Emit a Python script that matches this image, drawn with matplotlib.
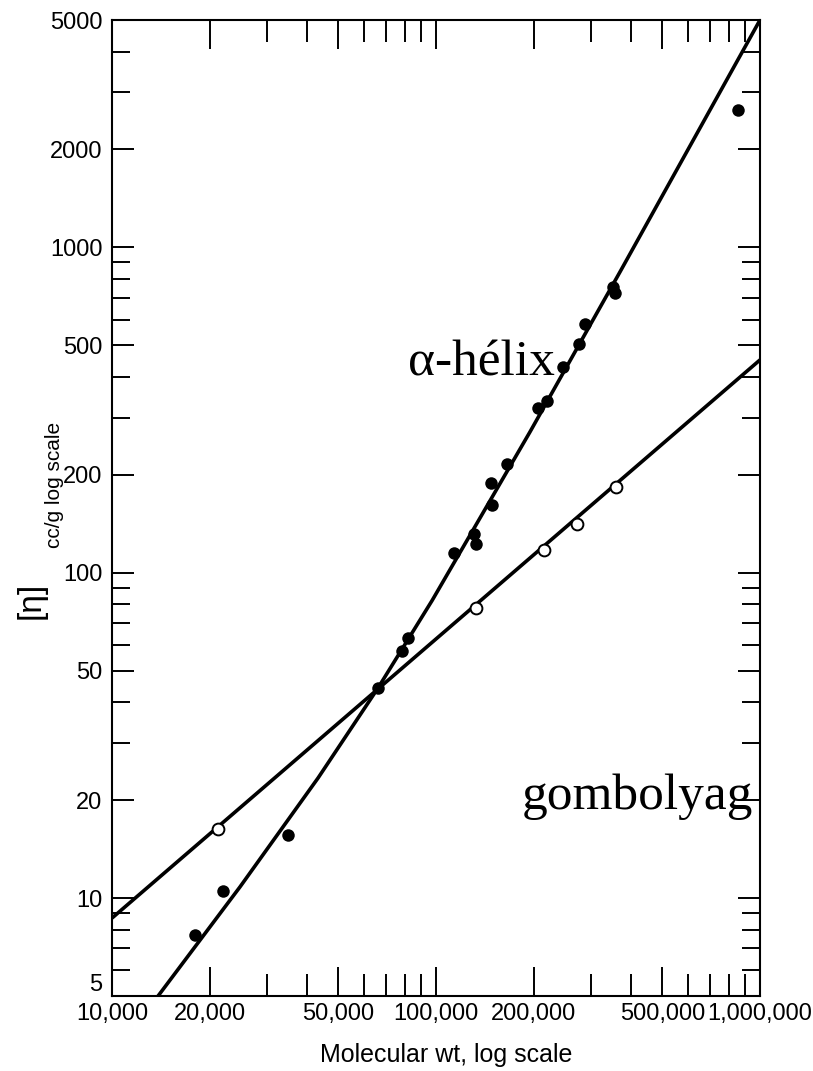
import matplotlib
matplotlib.use("Agg")
import matplotlib.pyplot as plt
from matplotlib.ticker import FixedLocator, FixedFormatter, LogLocator, NullFormatter

plt.rcParams["font.family"] = ["Liberation Sans", "DejaVu Sans"]

# alpha-helix (filled) points: molecular weight, intrinsic viscosity (cc/g)
helix_mw = [18050, 22000, 34900, 66200, 78500, 82000, 113700, 131000, 132800,
            148800, 147800, 165600, 206400, 220200, 246700, 276400, 288400,
            356600, 351600, 855000]
helix_eta = [7.7, 10.5, 15.6, 44.2, 57.5, 63.0, 115, 131.5, 122.6,
             161.5, 188.8, 216, 321, 337, 429, 505, 582,
             725, 756, 2646]

# random coil (open) points
coil_mw = [21200, 132800, 215000, 272000, 359000]
coil_eta = [16.3, 78.0, 117.5, 141, 183.5]

# drawn curves
helix_curve_mw = [13580, 24830, 43260, 66200, 97300, 195000, 369800, 1000000]
helix_curve_eta = [4.86, 10.82, 23.4, 44.2, 82.2, 270.9, 841, 5000]
coil_curve_mw = [10000, 1000000]
coil_curve_eta = [8.68, 451]

x_major = [10000, 20000, 50000, 100000, 200000, 500000, 1000000]
x_labels = ["10,000", "20,000", "50,000", "100,000", "200,000", "500,000", "1,000,000"]
y_major = [5, 10, 20, 50, 100, 200, 500, 1000, 2000, 5000]
y_labels = [str(v) for v in y_major]

fig = plt.figure(figsize=(8.13, 10.71), dpi=100)
ax = fig.add_axes([112 / 813, 1 - 996 / 1071, 648 / 813, 976 / 1071])
ax.set_xscale("log")
ax.set_yscale("log")
ax.set_xlim(1e4, 1e6)
ax.set_ylim(5, 5000)

ax.plot(helix_curve_mw, helix_curve_eta, color="black", lw=2.6,
        solid_capstyle="butt", solid_joinstyle="round")
ax.plot(coil_curve_mw, coil_curve_eta, color="black", lw=2.6, solid_capstyle="butt")
ax.plot(helix_mw, helix_eta, "o", color="black", ms=9, mew=0, zorder=3)
ax.plot(coil_mw, coil_eta, "o", mfc="white", mec="black", ms=8.5, mew=1.4, zorder=3)

ax.xaxis.set_major_locator(FixedLocator(x_major))
ax.xaxis.set_major_formatter(FixedFormatter(x_labels))
ax.xaxis.set_minor_locator(LogLocator(base=10, subs=range(2, 10), numticks=20))
ax.xaxis.set_minor_formatter(NullFormatter())
ax.yaxis.set_major_locator(FixedLocator(y_major))
ax.yaxis.set_major_formatter(FixedFormatter(y_labels))
ax.yaxis.set_minor_locator(LogLocator(base=10, subs=range(2, 10), numticks=20))
ax.yaxis.set_minor_formatter(NullFormatter())

ax.tick_params(which="both", direction="in", top=True, right=True, width=1.4,
               labelsize=17, color="black")
ax.tick_params(axis="x", which="major", length=21, pad=5)
ax.tick_params(axis="x", which="minor", length=16)
ax.tick_params(axis="y", which="major", length=16, pad=7)
ax.tick_params(axis="y", which="minor", length=13)
for sp in ax.spines.values():
    sp.set_linewidth(1.5)

# lowest y label sits just above the axis, clear of "10,000"
for lab in ax.get_yticklabels():
    if lab.get_text() == "5":
        lab.set_va("bottom")

fig.text(446 / 813, 1 - 1055 / 1071, "Molecular wt, log scale", fontsize=18,
         ha="center", va="center")

fig.text(31 / 813, 1 - 600 / 1071, "[η]", fontsize=24, rotation=90,
         ha="center", va="center")
fig.text(54 / 813, 1 - 485 / 1071, "cc/g log scale", fontsize=15, rotation=90,
         ha="center", va="center")

ax.text(81950, 405, "α-hélix", fontsize=37, family="Liberation Serif",
        ha="left", va="baseline")
ax.text(184300, 18.8, "gombolyag", fontsize=37, family="Liberation Serif",
        ha="left", va="baseline")

fig.savefig("out.png", dpi=100)
